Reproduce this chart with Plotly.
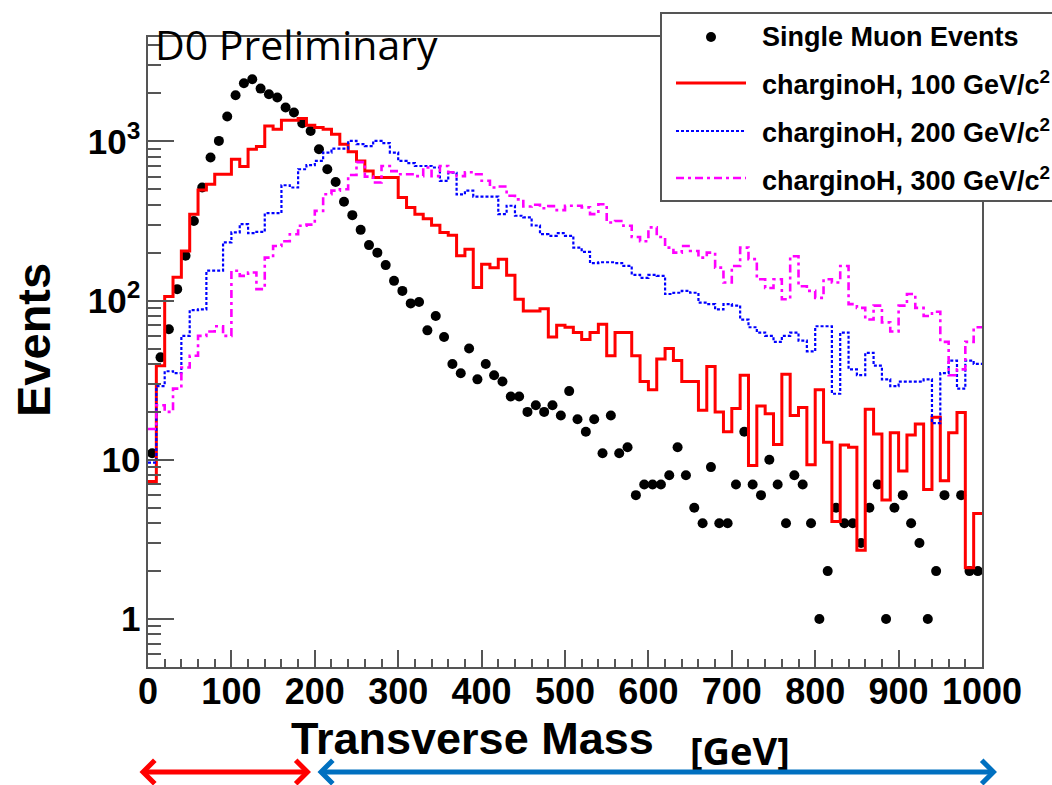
import math
import plotly.graph_objects as go

# ---------------- data ----------------
BIN_LO, BIN_HI, BIN_W = 0, 1000, 10
bin_edges = list(range(BIN_LO, BIN_HI + BIN_W, BIN_W))
bin_centers = [e + BIN_W / 2 for e in bin_edges[:-1]]

single_muon = [
    11, 44, 66, 118, 191, 316, 513, 791, 1006, 1432,
    1946, 2316, 2454, 2143, 1976, 1884, 1630, 1516, 1299, 1162,
    891, 668, 556, 417, 344, 278, 223, 200, 167, 133,
    115, 96, 98, 65, 80, 59, 40, 35, 50, 32,
    40, 34, 31, 25, 25, 20, 22, 20, 22, 19,
    27, 18, 15, 18, 11, 19, 11, 12, 6, 7,
    7, 7, 8, 12, 8, 5, 4, 9, 4, 4,
    7, 15, 7, 6, 10, 7, 4, 8, 7, 4,
    1, 2, 5, 4, 4, 3, 5, 7, 1, 5,
    6, 4, 3, 1, 2, 6, None, 6, 2, 2,
]

chargino_100 = [
    7.3, 39, 106, 140, 205, 349, 495, 538, 621, 621,
    772, 695, 891, 927, 1250, 1191, 1356, 1356, 1390, 1262,
    1220, 1191, 1109, 959, 860, 753, 652, 593, 593, 593,
    444, 384, 349, 327, 297, 268, 257, 191, 210, 121,
    169, 161, 182, 144, 102, 86, 86, 89, 59, 70,
    68, 63, 57, 63, 71, 45, 63, 63, 45, 31,
    27.5, 43, 50, 42, 31, 31, 20.5, 38.5, 20, 15,
    21, 34, 9.2, 21.8, 19.5, 12.5, 34.5, 19, 21.3, 9.3,
    27.5, 12.9, 4.1, 12.4, 12, 2.7, 20.8, 14.5, 5.6, 14.8,
    8.5, 14.3, 16.8, 6.5, 18.5, 7.4, 14.8, 19.8, 2.1, 4.6,
]

chargino_200 = [
    9.6, 29, 36, 35, 60, 87, 88, 154, 154, 232,
    268, 302, 265, 270, 354, 354, 530, 513, 668, 708,
    753, 850, 901, 901, 1006, 959, 934, 1006, 975, 850,
    753, 730, 700, 700, 685, 565, 635, 465, 490, 450,
    450, 450, 349, 394, 341, 333, 296, 261, 255, 265,
    255, 215, 202, 172, 174, 174, 172, 165, 145, 139,
    145, 143, 110, 112, 115, 112, 97, 95, 88, 95,
    93, 76, 68, 63, 60, 55, 60, 63, 56, 48,
    69, 69, 26, 63, 37, 34, 47, 39, 32, 29,
    31, 31, 31, 32, 17, 35, 42, 28, 42, 40,
]

chargino_300 = [
    15.6, 22, 20, 28, 38, 45, 60, 64, 69, 60,
    154, 143, 150, 118, 186, 220, 236, 261, 295, 300,
    366, 465, 490, 500, 615, 740, 600, 551, 700, 650,
    621, 621, 605, 685, 605, 700, 640, 605, 640, 621,
    565, 513, 520, 455, 432, 390, 400, 380, 392, 370,
    394, 394, 385, 349, 403, 309, 316, 295, 251, 236,
    288, 251, 215, 200, 220, 205, 186, 200, 161, 130,
    165, 215, 182, 136, 120, 136, 102, 190, 123, 115,
    104, 136, 130, 165, 95, 90, 76, 93, 73, 64,
    93, 110, 90, 80, 85, 55, 34, 37, 55, 68,
]

x_tick_vals = [0, 100, 200, 300, 400, 500, 600, 700, 800, 900, 1000]
y_min, y_max = 0.5, 4520

legend_labels = [
    "Single Muon Events",
    "charginoH, 100 GeV/c<sup>2</sup>",
    "charginoH, 200 GeV/c<sup>2</sup>",
    "charginoH, 300 GeV/c<sup>2</sup>",
]

# ---------------- geometry / styles ----------------
W, H = 1052, 785
ML, MR, MT, MB = 148, 70, 37, 118
PW, PH = W - ML - MR, H - MT - MB
AXC = "#555555"
RED, BLUE, MAG = "#ff0000", "#0000ff", "#ff00ff"
BLUE_DASH = "3px,2px"
MAG_DASH = "8px,4px,3px,4px"


def px(xp):
    return (xp - ML) / PW


def py(yp):
    return (H - MB - yp) / PH


def step(vals):
    return vals + [vals[-1]]


fig = go.Figure()
fig.add_trace(go.Scatter(x=bin_centers, y=single_muon, mode="markers",
                         marker=dict(color="black", size=10),
                         name=legend_labels[0], cliponaxis=True))
fig.add_trace(go.Scatter(x=bin_edges, y=step(chargino_100), mode="lines",
                         line=dict(color=RED, width=3, shape="hv"),
                         name=legend_labels[1]))
fig.add_trace(go.Scatter(x=bin_edges, y=step(chargino_200), mode="lines",
                         line=dict(color=BLUE, width=2.2, shape="hv", dash=BLUE_DASH),
                         name=legend_labels[2]))
fig.add_trace(go.Scatter(x=bin_edges, y=step(chargino_300), mode="lines",
                         line=dict(color=MAG, width=2.6, shape="hv", dash=MAG_DASH),
                         name=legend_labels[3]))

bold = dict(family="Liberation Sans, Arial, sans-serif", color="black", weight="bold")

fig.update_layout(
    width=W, height=H,
    margin=dict(l=ML, r=MR, t=MT, b=MB, pad=0),
    paper_bgcolor="white", plot_bgcolor="white",
    showlegend=False,
    xaxis=dict(range=[BIN_LO, BIN_HI], tickvals=x_tick_vals, tickangle=0,
               ticks="inside", ticklen=17, tickwidth=2, tickcolor=AXC,
               showline=True, linecolor=AXC, linewidth=2, mirror=True,
               showgrid=False, zeroline=False,
               tickfont=dict(size=36, **bold), ticklabelstandoff=-8,
               minor=dict(ticks="inside", ticklen=8, tickwidth=2, tickcolor=AXC, dtick=20)),
    yaxis=dict(type="log", range=[math.log10(y_min), math.log10(y_max)],
               dtick=1, exponentformat="power",
               ticks="inside", ticklen=26, tickwidth=2, tickcolor=AXC,
               showline=True, linecolor=AXC, linewidth=2, mirror=True,
               showgrid=False, zeroline=False,
               tickfont=dict(size=28, **bold), ticklabelstandoff=0,
               minor=dict(ticks="inside", ticklen=13, tickwidth=2, tickcolor=AXC, dtick="D1")),
)

# ---------------- legend box (drawn by hand to match ROOT style) ----------------
shapes = [
    dict(type="rect", xref="paper", yref="paper", x0=px(661), x1=px(1075), y0=py(201), y1=py(13),
         line=dict(color=AXC, width=2), fillcolor="white", layer="above"),
    dict(type="circle", xref="paper", yref="paper", x0=px(706), x1=px(716), y0=py(42), y1=py(32),
         line=dict(color="black", width=0), fillcolor="black", layer="above"),
    dict(type="line", xref="paper", yref="paper", x0=px(676), x1=px(746), y0=py(83), y1=py(83),
         line=dict(color=RED, width=3), layer="above"),
    dict(type="line", xref="paper", yref="paper", x0=px(676), x1=px(746), y0=py(131), y1=py(131),
         line=dict(color=BLUE, width=2.2, dash=BLUE_DASH), layer="above"),
    dict(type="line", xref="paper", yref="paper", x0=px(676), x1=px(746), y0=py(178), y1=py(178),
         line=dict(color=MAG, width=2.6, dash=MAG_DASH), layer="above"),
]
fig.update_layout(shapes=shapes)

annotations = []
for lab, yy in zip(legend_labels, [37, 83, 131, 179]):
    annotations.append(dict(text=lab, xref="paper", yref="paper", x=px(760), y=py(yy),
                            xanchor="left", yanchor="middle", showarrow=False,
                            font=dict(size=27, **bold)))

annotations += [
    dict(text="D0 Preliminary", xref="paper", yref="paper", x=px(153), y=py(44),
         xanchor="left", yanchor="middle", showarrow=False,
         font=dict(family="Open Sans, sans-serif", size=41, color="black")),
    dict(text="Events", xref="paper", yref="paper", x=px(33), y=py(340),
         xanchor="center", yanchor="middle", textangle=-90, showarrow=False,
         font=dict(size=47, **bold)),
    dict(text="Transverse Mass", xref="paper", yref="paper", x=px(472), y=py(738),
         xanchor="center", yanchor="middle", showarrow=False,
         font=dict(size=45, **bold)),
    dict(text="[GeV]", xref="paper", yref="paper", x=px(740), y=py(750),
         xanchor="center", yanchor="middle", showarrow=False,
         font=dict(family="Open Sans, sans-serif", size=38, color="black", weight="bold")),
    # range arrows under the axis
    dict(text="", xref="paper", yref="paper", x=px(311), y=py(772), ax=-(311 - 138), ay=0,
         axref="pixel", ayref="pixel", showarrow=True, arrowside="end+start",
         arrowhead=4, startarrowhead=4, arrowwidth=5, arrowsize=0.9, startarrowsize=0.9,
         arrowcolor=RED, standoff=0, startstandoff=0),
    dict(text="", xref="paper", yref="paper", x=px(997), y=py(772), ax=-(997 - 316), ay=0,
         axref="pixel", ayref="pixel", showarrow=True, arrowside="end+start",
         arrowhead=4, startarrowhead=4, arrowwidth=5, arrowsize=0.9, startarrowsize=0.9,
         arrowcolor="#0070c0", standoff=0, startstandoff=0),
]
fig.update_layout(annotations=annotations)

fig.write_html("out.html")
